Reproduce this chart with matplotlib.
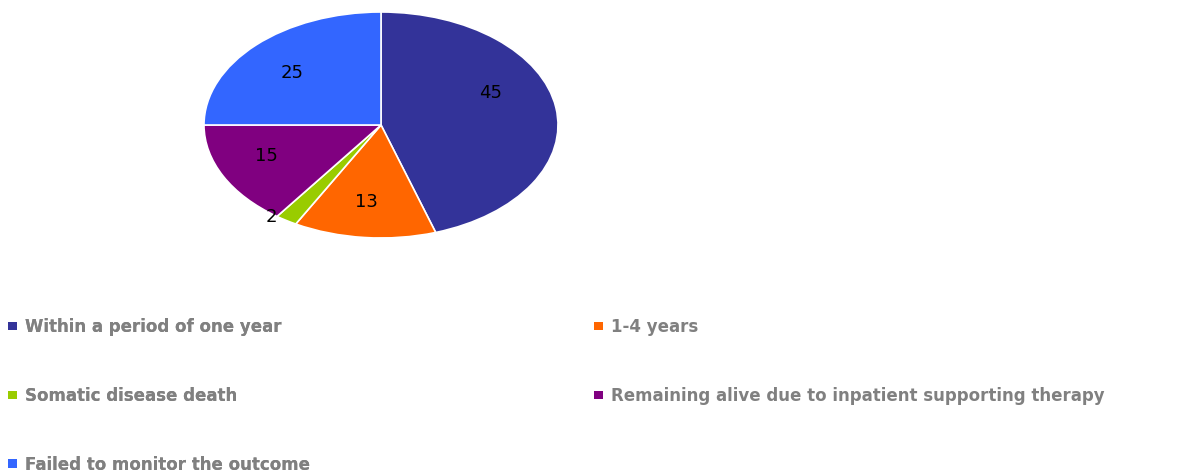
import matplotlib.pyplot as plt
from matplotlib.patches import Patch

categories = ['Within a period of one year', '1-4 years', 'Somatic disease death',
              'Remaining alive due to inpatient supporting therapy', 'Failed to monitor the outcome']
values = [45, 13, 2, 15, 25]
colors = ['#333399', '#FF6600', '#99CC00', '#800080', '#3366FF']
# label positions inside the (elliptic) pie, in axes data units
label_pos = [(0.62, 0.28), (-0.08, -0.68), (-0.62, -0.81), (-0.65, -0.27), (-0.50, 0.46)]

plt.rcParams['font.family'] = ['DejaVu Sans']

fig = plt.figure(figsize=(11.81, 4.74), dpi=100)
# pie is drawn stretched: axes box = ellipse bounding box
ax = fig.add_axes([204 / 1181, 1 - 238 / 474, 354 / 1181, 226 / 474])
wedges, _ = ax.pie(values, colors=colors, startangle=90, counterclock=False,
                   wedgeprops=dict(edgecolor='white', linewidth=1.2))
ax.set_aspect('auto')
ax.set_xlim(-1, 1)
ax.set_ylim(-1, 1)
ax.set_axis_off()

for v, (x, y) in zip(values, label_pos):
    ax.text(x, y, str(v), ha='center', va='center', fontsize=13, color='black')

# legend: two columns, row-wise order
def make_legend(idx, x0):
    handles = [Patch(facecolor=colors[i], edgecolor='none') for i in idx]
    labels = [categories[i] for i in idx]
    leg = fig.legend(handles, labels, loc='upper left', bbox_to_anchor=(x0, 1 - 318 / 474),
                     frameon=False, fontsize=12, handlelength=0.55, handleheight=0.4,
                     handletextpad=0.45, labelspacing=3.05, borderaxespad=0, borderpad=0)
    for t in leg.get_texts():
        t.set_color('#808080')
        t.set_fontweight('bold')
    return leg

leg1 = make_legend([0, 2, 4], 8 / 1181)
fig.add_artist(leg1)
make_legend([1, 3], 594 / 1181)

fig.savefig('out.png', dpi=100)
